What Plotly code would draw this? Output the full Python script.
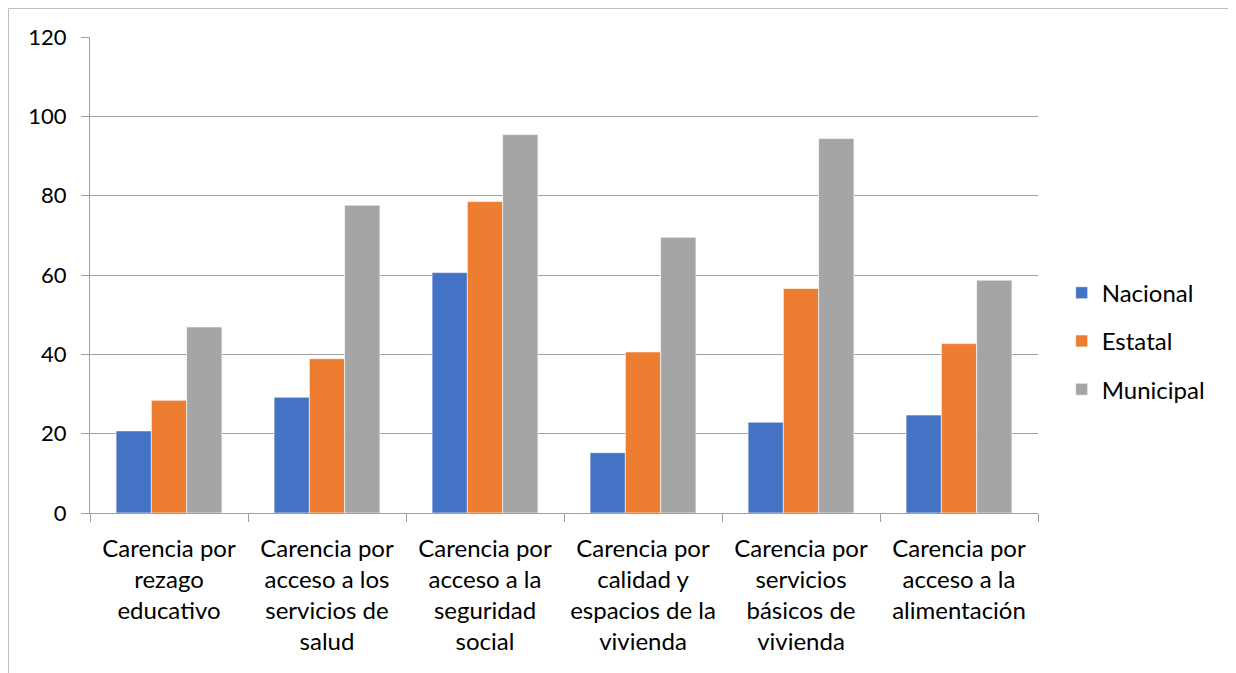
import plotly.graph_objects as go

categories = [
    "Carencia por<br>rezago<br>educativo",
    "Carencia por<br>acceso a los<br>servicios de<br>salud",
    "Carencia por<br>acceso a la<br>seguridad<br>social",
    "Carencia por<br>calidad y<br>espacios de la<br>vivienda",
    "Carencia por<br>servicios<br>básicos de<br>vivienda",
    "Carencia por<br>acceso a la<br>alimentación",
]
nacional = [20.7, 29.2, 60.6, 15.2, 22.9, 24.7]
estatal = [28.4, 38.9, 78.5, 40.6, 56.6, 42.7]
municipal = [46.9, 77.6, 95.4, 69.5, 94.4, 58.7]
y_ticks = [0, 20, 40, 60, 80, 100, 120]

series = [
    ("Nacional", nacional, "#4472C4"),
    ("Estatal", estatal, "#ED7D31"),
    ("Municipal", municipal, "#A5A5A5"),
]

fig = go.Figure()
for name, vals, color in series:
    fig.add_trace(go.Bar(
        x=categories, y=vals, name=name, legendgroup=name,
        marker=dict(color=color, line=dict(color="rgba(255,255,255,0.6)", width=1)),
    ))

font_family = "Lato, 'Open Sans', sans-serif"
fig.update_layout(
    width=1236, height=673,
    margin=dict(l=82, r=206, t=29, b=168, autoexpand=False),
    paper_bgcolor="white", plot_bgcolor="white",
    barmode="group", bargap=0.33, bargroupgap=0,
    font=dict(family=font_family, size=22, color="#000000"),
    legend=dict(x=1.025, y=0.361, xanchor="left", yanchor="middle",
                font=dict(size=24), traceorder="grouped", tracegroupgap=14,
                itemwidth=30),
    showlegend=True,
    shapes=[dict(type="rect", xref="paper", yref="paper",
                 x0=-0.0860, x1=1.2078, y0=-0.45, y1=1.0599,
                 line=dict(color="#bfbfbf", width=1), layer="below")],
)
fig.update_xaxes(
    type="category", tickson="boundaries", ticks="outside", ticklen=8,
    tickcolor="#a0a0a0", showline=True, linecolor="#a0a0a0", linewidth=1,
    showgrid=False, tickfont=dict(size=24), mirror=False,
    ticklabelstandoff=14,
)
fig.update_yaxes(
    range=[0, 120], tickvals=y_ticks, ticks="outside", ticklen=8,
    tickcolor="#a0a0a0", showline=True, linecolor="#a0a0a0", linewidth=1,
    showgrid=True, gridcolor="#a0a0a0", gridwidth=1, zeroline=False,
    tickfont=dict(size=22), ticklabelstandoff=10,
)

fig.write_html("out.html")
